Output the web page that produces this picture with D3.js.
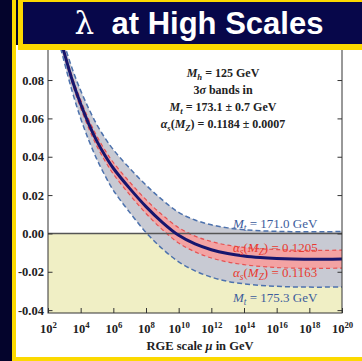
<!DOCTYPE html>
<html><head><meta charset="utf-8">
<script src="https://cdn.jsdelivr.net/npm/d3@7"></script>
<style>html,body{margin:0;padding:0;background:#fff;}svg{display:block;}</style>
</head><body>
<svg id="chart" width="362" height="361"></svg>
<script>
// RGE running of the Higgs quartic coupling, log10(mu / GeV) sample points
const scaleExponents = [2, 2.5, 3, 3.5, 4, 4.5, 5, 5.5, 6, 7, 8, 9, 10, 11, 12, 13, 14, 15, 16, 17, 18, 19, 20];
const lambdaCentral = [0.126, 0.109, 0.094, 0.0795, 0.0675, 0.057, 0.048, 0.0405, 0.034, 0.0235, 0.014, 0.0058, -0.001, -0.0055, -0.0085, -0.0105, -0.0118, -0.0126, -0.0131, -0.0134, -0.0135, -0.0135, -0.0134];
const lambdaMt1710 = [0.127, 0.1118, 0.0985, 0.0855, 0.0745, 0.065, 0.0566, 0.0496, 0.0437, 0.034, 0.0252, 0.0175, 0.011, 0.007, 0.0045, 0.0029, 0.0019, 0.0014, 0.0011, 0.0009, 0.0009, 0.0009, 0.001];
const lambdaMt1753 = [0.125, 0.1062, 0.0893, 0.0735, 0.06, 0.0485, 0.0385, 0.03, 0.0225, 0.011, 0.0005, -0.008, -0.0148, -0.0195, -0.0228, -0.025, -0.0263, -0.0271, -0.0276, -0.0279, -0.028, -0.028, -0.0279];
const lambdaAs1205 = [0.1263, 0.1098, 0.0953, 0.0812, 0.0696, 0.0593, 0.0506, 0.0433, 0.037, 0.0268, 0.0176, 0.0096, 0.003, -0.0014, -0.0042, -0.0061, -0.0073, -0.008, -0.0084, -0.0087, -0.0088, -0.0088, -0.0087];
const lambdaAs1163 = [0.1257, 0.1082, 0.0927, 0.0778, 0.0654, 0.0547, 0.0454, 0.0377, 0.031, 0.0202, 0.0104, 0.002, -0.005, -0.0096, -0.0128, -0.0149, -0.0163, -0.0172, -0.0178, -0.0181, -0.0182, -0.0182, -0.0181];
const yTickValues = [-0.04, -0.02, 0.00, 0.02, 0.04, 0.06, 0.08];
const xTickExponents = [2, 4, 6, 8, 10, 12, 14, 16, 18, 20];

const svg = d3.select("#chart");
const W = 362, H = 361;
const yellow = "#fcd900", navy = "#07074a", darkStrip = "#04042c";

svg.append("rect").attr("width", W).attr("height", H).attr("fill", "#fff");

// plot frame geometry
const pL = 48, pR = 342, pT = 41.7, pB = 313;
const x = d3.scaleLog().domain([1e2, 1e20]).range([pL, pR]);
const y = d3.scaleLinear().domain([-0.0415, 0.1]).range([pB, pT]);

const rows = scaleExponents.map((e, i) => ({
  mu: Math.pow(10, e), c: lambdaCentral[i], mHi: lambdaMt1710[i], mLo: lambdaMt1753[i],
  aHi: lambdaAs1205[i], aLo: lambdaAs1163[i]
}));

svg.append("clipPath").attr("id", "plotClip").append("rect")
  .attr("x", pL).attr("y", pT).attr("width", pR - pL).attr("height", pB - pT);
const plot = svg.append("g").attr("clip-path", "url(#plotClip)");

// unstable region below lambda = 0
plot.append("rect").attr("x", pL).attr("y", y(0)).attr("width", pR - pL)
  .attr("height", pB - y(0)).attr("fill", "#f0efc5");

const curve = d3.curveCatmullRom.alpha(0.5);
const band = (lo, hi) => d3.area().curve(curve).x(d => x(d.mu)).y0(d => y(d[lo])).y1(d => y(d[hi]));
const line = key => d3.line().curve(curve).x(d => x(d.mu)).y(d => y(d[key]));

plot.append("path").datum(rows).attr("d", band("mLo", "mHi")).attr("fill", "#c8cad3");
plot.append("path").datum(rows).attr("d", band("aLo", "aHi")).attr("fill", "#f3a3a3");

["mHi", "mLo"].forEach(k => plot.append("path").datum(rows).attr("d", line(k))
  .attr("fill", "none").attr("stroke", "#4d72ad").attr("stroke-width", 1.5).attr("stroke-dasharray", "5,3"));
["aHi", "aLo"].forEach(k => plot.append("path").datum(rows).attr("d", line(k))
  .attr("fill", "none").attr("stroke", "#e65252").attr("stroke-width", 1.2).attr("stroke-dasharray", "4,3"));

// lambda = 0 reference line
plot.append("line").attr("x1", pL).attr("x2", pR).attr("y1", y(0)).attr("y2", y(0))
  .attr("stroke", "#555").attr("stroke-width", 1.5);

plot.append("path").datum(rows).attr("d", line("c"))
  .attr("fill", "none").attr("stroke", "#16166e").attr("stroke-width", 3);

// frame
svg.append("rect").attr("x", pL).attr("y", pT).attr("width", pR - pL).attr("height", pB - pT)
  .attr("fill", "none").attr("stroke", "#333").attr("stroke-width", 1);

const serif = "'Liberation Serif','Times New Roman',serif";
const minorY = d3.range(-0.04, 0.1001, 0.005);

// left axis
const gL = svg.append("g").attr("transform", `translate(${pL},0)`);
gL.call(d3.axisLeft(y).tickValues(minorY).tickSize(-2.5).tickFormat(""));
gL.call(d3.axisLeft(y).tickValues(yTickValues).tickSize(-4.5).tickPadding(4).tickFormat(d => d.toFixed(2)));
gL.selectAll("text").attr("font-family", serif).attr("font-size", 12.5).attr("font-weight", "bold").attr("fill", "#222");
// right axis
const gR = svg.append("g").attr("transform", `translate(${pR},0)`);
gR.call(d3.axisRight(y).tickValues(minorY).tickSize(-2.5).tickFormat(""));
gR.call(d3.axisRight(y).tickValues(yTickValues).tickSize(-4.5).tickFormat(""));
// bottom axis
const decades = d3.range(2, 21).map(e => Math.pow(10, e));
const gB = svg.append("g").attr("transform", `translate(0,${pB})`);
gB.call(d3.axisBottom(x).tickValues(decades).tickSize(-4).tickFormat(""));
gB.call(d3.axisBottom(x).tickValues(xTickExponents.map(e => Math.pow(10, e))).tickSize(-5).tickPadding(11)
  .tickFormat(""));
gB.selectAll("text").each(function(d) {
  const t = d3.select(this);
  const e = Math.round(Math.log10(d));
  t.attr("font-family", serif).attr("font-size", 12.5).attr("font-weight", "bold").attr("fill", "#222");
  t.append("tspan").text("10");
  t.append("tspan").attr("font-size", "0.7em").attr("dy", -5).text(e);
});
[gL, gR, gB].forEach(g => {
  g.select(".domain").remove();
  g.selectAll(".tick line").attr("stroke", "#333");
});

// rich text helper: parts with italic / subscript flags
function richText(parent, px, py, parts, opt) {
  const t = parent.append("text").attr("x", px).attr("y", py).attr("text-anchor", opt.anchor || "middle")
    .attr("font-family", serif).attr("font-size", opt.size).attr("font-weight", opt.weight || "normal")
    .attr("fill", opt.fill).style("white-space", "pre");
  let shift = 0;
  parts.forEach(p => {
    const target = p.sub ? 3 : 0;
    const ts = t.append("tspan").text(p.t);
    if (target !== shift) ts.attr("dy", target - shift);
    shift = target;
    if (p.i) ts.attr("font-style", "italic");
    if (p.sub) ts.attr("font-size", "0.72em");
  });
  return t;
}

const info = svg.append("g");
const infoOpt = { size: 12, weight: "bold", fill: "#222" };
richText(info, 223, 77, [{ t: "M", i: 1 }, { t: "h", i: 1, sub: 1 }, { t: " = 125 GeV" }], infoOpt);
richText(info, 223, 94, [{ t: "3" }, { t: "σ", i: 1 }, { t: " bands in" }], infoOpt);
richText(info, 223, 111, [{ t: "M", i: 1 }, { t: "t", i: 1, sub: 1 }, { t: " = 173.1 ± 0.7 GeV" }], infoOpt);
richText(info, 223, 128, [{ t: "α", i: 1 }, { t: "s", i: 1, sub: 1 }, { t: "(" }, { t: "M", i: 1 }, { t: "Z", i: 1, sub: 1 }, { t: ") = 0.1184 ± 0.0007" }], infoOpt);

const blueLab = { size: 13, fill: "#3c5c9c", anchor: "start" };
const redLab = { size: 13, fill: "#e83a30", anchor: "start" };
richText(svg, 233, 228, [{ t: "M", i: 1 }, { t: "t", i: 1, sub: 1 }, { t: " = 171.0 GeV" }], blueLab);
richText(svg, 233, 252, [{ t: "α", i: 1 }, { t: "s", i: 1, sub: 1 }, { t: "(" }, { t: "M", i: 1 }, { t: "Z", i: 1, sub: 1 }, { t: ") = 0.1205" }], redLab);
richText(svg, 233, 277, [{ t: "α", i: 1 }, { t: "s", i: 1, sub: 1 }, { t: "(" }, { t: "M", i: 1 }, { t: "Z", i: 1, sub: 1 }, { t: ") = 0.1163" }], redLab);
richText(svg, 233, 302, [{ t: "M", i: 1 }, { t: "t", i: 1, sub: 1 }, { t: " = 175.3 GeV" }], blueLab);

// axis title
richText(svg, 200, 350, [{ t: "RGE scale " }, { t: "μ", i: 1 }, { t: " in GeV" }], { size: 12.5, weight: "bold", fill: "#222" });

// slide decoration: left strip, yellow rule, title banner, bottom rule
svg.append("rect").attr("x", 0).attr("y", 0).attr("width", 12).attr("height", H).attr("fill", darkStrip);
svg.append("rect").attr("x", 12).attr("y", 0).attr("width", 4).attr("height", H).attr("fill", yellow);
svg.append("rect").attr("x", 16).attr("y", 0).attr("width", 2).attr("height", 45).attr("fill", darkStrip);
svg.append("rect").attr("x", 12).attr("y", 357).attr("width", W - 12).attr("height", 4).attr("fill", yellow);
svg.append("rect").attr("x", 18).attr("y", 0).attr("width", W - 18).attr("height", 50).attr("fill", yellow);
svg.append("rect").attr("x", 23).attr("y", 2).attr("width", W - 23).attr("height", 42).attr("fill", navy);
const title = svg.append("text").attr("x", 199).attr("y", 34).attr("text-anchor", "middle")
  .attr("font-family", "'Liberation Sans',Arial,sans-serif").attr("font-size", 31).attr("font-weight", "bold")
  .attr("fill", "#fff").style("white-space", "pre");
title.append("tspan").attr("font-family", "'DejaVu Serif',serif").attr("font-weight", "normal").text("λ");
title.append("tspan").text("  at High Scales");
</script>
</body></html>
